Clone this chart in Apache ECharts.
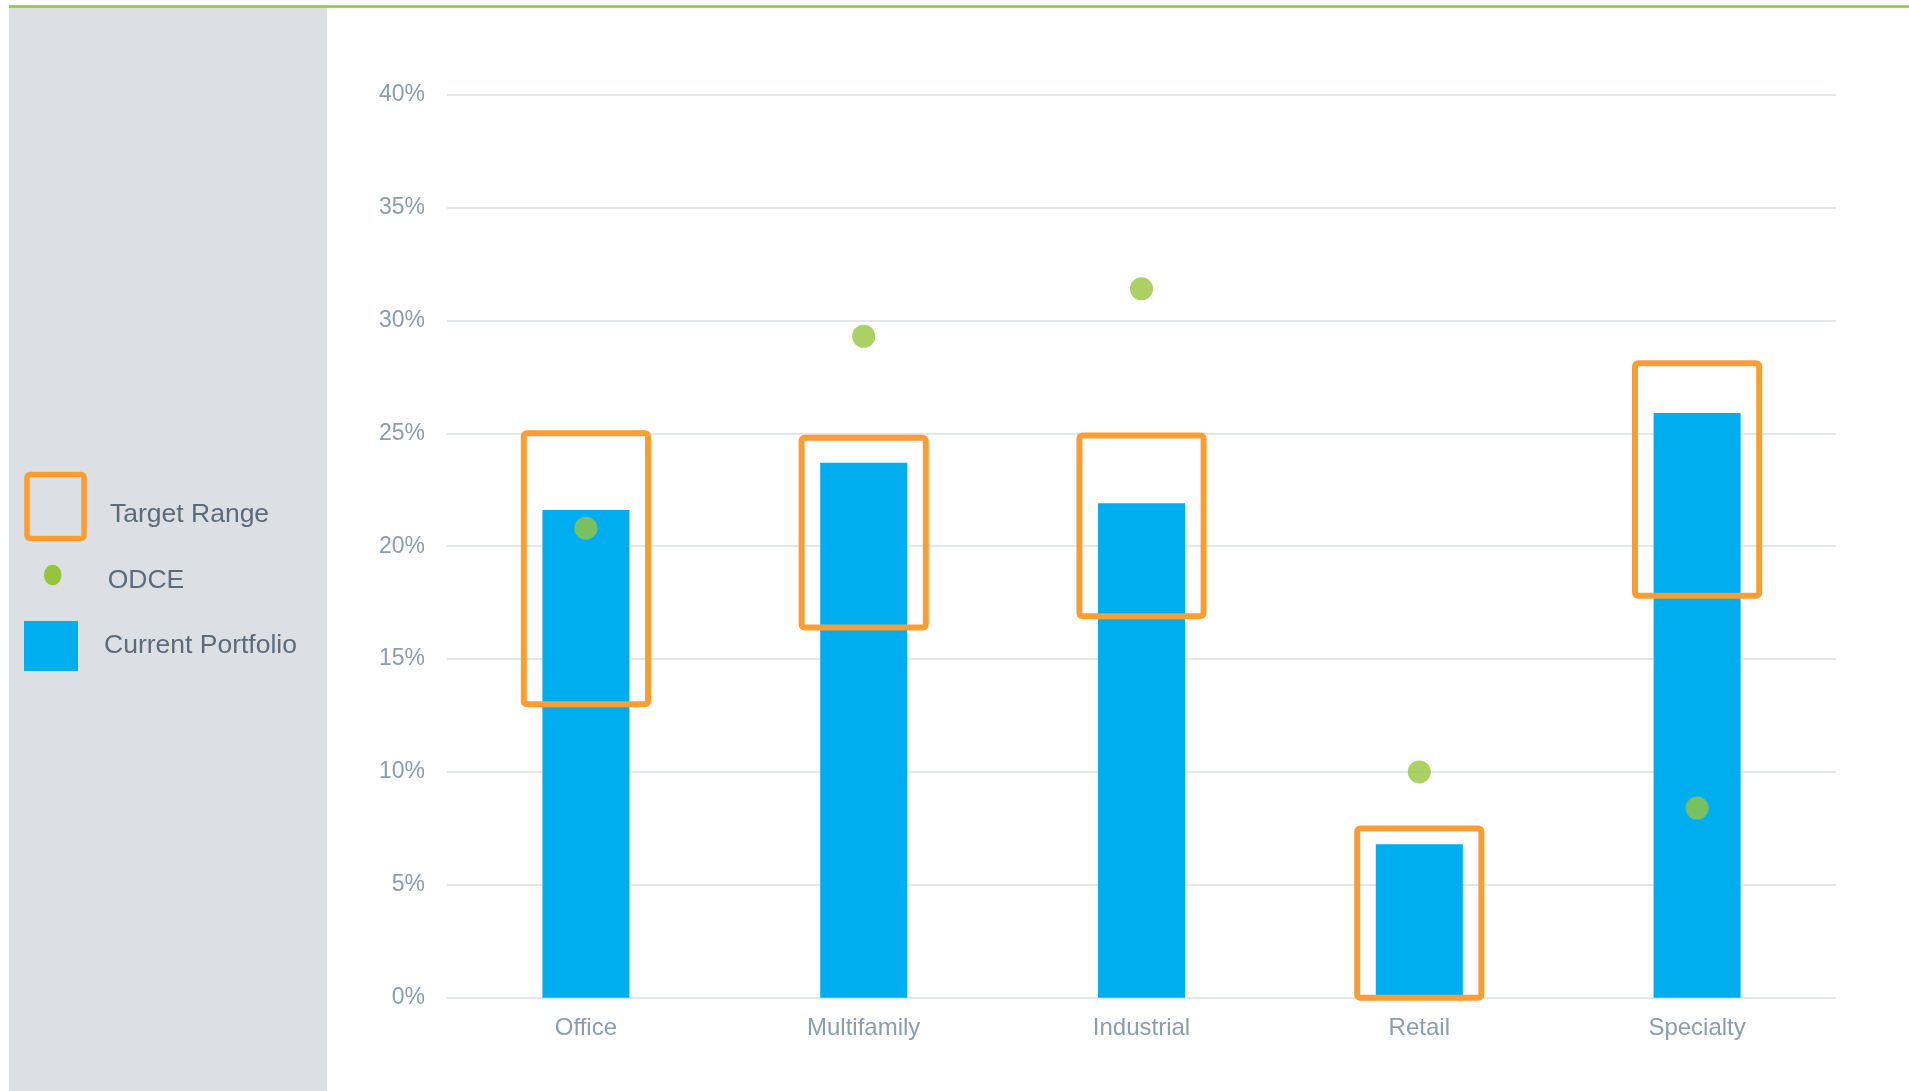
<!DOCTYPE html>
<html>
<head>
<meta charset="utf-8">
<script src="https://cdn.jsdelivr.net/npm/echarts@6/dist/echarts.min.js"></script>
<style>
html,body{margin:0;padding:0;background:#fff;}
#chart{width:1909px;height:1091px;}
</style>
</head>
<body>
<div id="chart"></div>
<script>
const categories = ['Office', 'Multifamily', 'Industrial', 'Retail', 'Specialty'];
const currentPortfolio = [21.6, 23.7, 21.9, 6.8, 25.9];
const odce = [20.8, 29.3, 31.4, 10.0, 8.4];
const targetLow = [13.0, 16.4, 16.9, 0.0, 17.8];
const targetHigh = [25.0, 24.8, 24.9, 7.5, 28.1];
const yTicks = [0, 5, 10, 15, 20, 25, 30, 35, 40];
const legendLabels = ['Target Range', 'ODCE', 'Current Portfolio'];

const FONT = "'Liberation Sans', Arial, sans-serif";
const AXIS_TEXT = '#8C9DAD';
const LEGEND_TEXT = '#5B6B7C';
const BLUE = '#00AEEF';
const GREEN = '#96C43C';
const ORANGE = '#F99D35';

const chart = echarts.init(document.getElementById('chart'), null, {renderer: 'canvas'});

const option = {
  backgroundColor: '#ffffff',
  animation: false,
  grid: {left: 447, right: 73, top: 94.7, bottom: 93.3, containLabel: false},
  xAxis: {
    type: 'category',
    data: categories,
    axisLine: {show: false},
    axisTick: {show: false},
    axisLabel: {color: AXIS_TEXT, fontSize: 24, fontFamily: FONT, margin: 19}
  },
  yAxis: {
    type: 'value',
    min: yTicks[0],
    max: yTicks[yTicks.length - 1],
    interval: yTicks[1] - yTicks[0],
    axisLine: {show: false},
    axisTick: {show: false},
    splitLine: {lineStyle: {color: '#E3E7EB', width: 2}},
    axisLabel: {color: AXIS_TEXT, fontSize: 23, fontFamily: FONT, margin: 22, padding: [4, 0, 0, 0], formatter: '{value}%'}
  },
  series: [
    {
      name: legendLabels[2],
      type: 'bar',
      data: currentPortfolio,
      barWidth: 87,
      itemStyle: {color: BLUE},
      z: 2
    },
    {
      name: legendLabels[0],
      type: 'custom',
      data: categories.map((c, i) => [i, targetLow[i], targetHigh[i]]),
      encode: {x: 0, y: [1, 2]},
      z: 3,
      renderItem: function (params, api) {
        const idx = api.value(0);
        const top = api.coord([idx, api.value(2)]);
        const bot = api.coord([idx, api.value(1)]);
        const w = api.size([1, 0])[0] * 0.447;
        return {
          type: 'rect',
          shape: {x: top[0] - w / 2, y: top[1], width: w, height: bot[1] - top[1], r: 3},
          style: {fill: 'none', stroke: ORANGE, lineWidth: 6}
        };
      }
    },
    {
      name: legendLabels[1],
      type: 'scatter',
      data: odce,
      symbol: 'circle',
      symbolSize: 23,
      itemStyle: {color: GREEN},
      z: 4
    }
  ],
  graphic: [
    {type: 'rect', z: -10, shape: {x: 9, y: 7, width: 318, height: 1084}, style: {fill: '#DCE0E4'}},
    {type: 'line', z: 10, shape: {x1: 9, y1: 6.5, x2: 1909, y2: 6.5}, style: {stroke: '#8DC63F', lineWidth: 2.5}},
    {type: 'rect', z: 10, shape: {x: 27, y: 474.5, width: 57, height: 64, r: 3}, style: {fill: 'none', stroke: ORANGE, lineWidth: 5.5}},
    {type: 'text', z: 10, x: 110, y: 515, style: {text: legendLabels[0], fill: LEGEND_TEXT, font: '26.5px ' + FONT, verticalAlign: 'middle'}},
    {type: 'ellipse', z: 10, shape: {cx: 52.7, cy: 575, rx: 8.7, ry: 10.3}, style: {fill: GREEN}},
    {type: 'text', z: 10, x: 107.7, y: 581, style: {text: legendLabels[1], fill: LEGEND_TEXT, font: '26.5px ' + FONT, verticalAlign: 'middle'}},
    {type: 'rect', z: 10, shape: {x: 24, y: 621, width: 54, height: 50}, style: {fill: BLUE}},
    {type: 'text', z: 10, x: 104, y: 646, style: {text: legendLabels[2], fill: LEGEND_TEXT, font: '26.5px ' + FONT, verticalAlign: 'middle'}}
  ]
};
chart.setOption(option);
</script>
</body>
</html>
